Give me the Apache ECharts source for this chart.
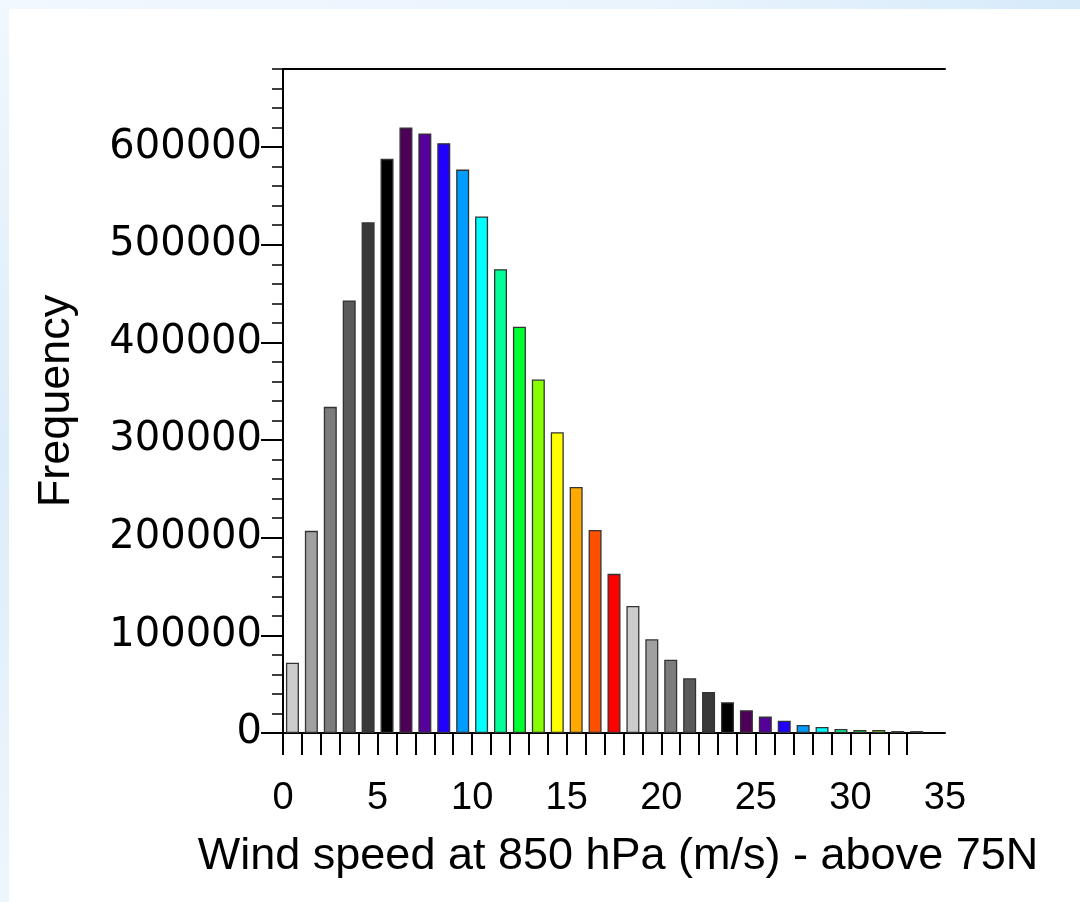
<!DOCTYPE html>
<html>
<head>
<meta charset="utf-8">
<title>Wind speed at 850 hPa histogram</title>
<script src="https://cdn.jsdelivr.net/npm/echarts@6/dist/echarts.min.js"></script>
<style>
  html, body { margin: 0; padding: 0; background: #ffffff; }
  #chart { width: 1080px; height: 902px; }
</style>
</head>
<body>
<div id="chart"></div>
<script>
// Lower edge of each 1 m/s wind-speed bin
const binEdges = [0, 1, 2, 3, 4, 5, 6, 7, 8, 9, 10, 11, 12, 13, 14, 15, 16,
  17, 18, 19, 20, 21, 22, 23, 24, 25, 26, 27, 28, 29, 30, 31, 32, 33];
const binWidth = 1;

// Number of samples in each bin
const frequency = [72000, 207000, 334000, 443000, 523000, 588000, 620000, 614000,
  604000, 577000, 529000, 475000, 416000, 362000, 308000, 252000, 208000, 163000,
  130000, 96000, 75000, 56000, 42000, 31500, 23300, 16800, 12500, 8300,
  6200, 4200, 3000, 3000, 2000, 2000];

// Tick labels
const xTickLabels = [0, 5, 10, 15, 20, 25, 30, 35];
const yTickLabels = [0, 100000, 200000, 300000, 400000, 500000, 600000];

// Fill colours, cycled through the bars
const barColors = ['#cccccc', '#a0a0a0', '#7c7c7c', '#5a5a5a', '#393939', '#000000',
  '#4e0058', '#540099', '#2200ff', '#009cff', '#00ffff', '#00ff99', '#00ff2e',
  '#88ff00', '#ffff00', '#ffaa00', '#ff5000', '#ff0000'];

const xMax = 35;
const yMax = 680000;

const barData = binEdges.map((edge, i) => ({
  value: [edge + binWidth / 2, frequency[i]],
  itemStyle: { color: barColors[i % barColors.length] }
}));

const chart = echarts.init(document.getElementById('chart'), null, { renderer: 'canvas' });

const labelFont = '"Liberation Sans", Arial, Helvetica, sans-serif';

chart.setOption({
  animation: false,
  backgroundColor: '#e8f2fb',
  graphic: [
    {
      type: 'rect', z: -20, silent: true,
      shape: { x: 0, y: 0, width: 1080, height: 10 },
      style: { fill: new echarts.graphic.LinearGradient(0, 0, 1, 0, [
        { offset: 0, color: '#f1f8fe' }, { offset: 0.6, color: '#eaf4fd' }, { offset: 1, color: '#d6eafa' }
      ]) }
    },
    {
      type: 'rect', z: -20, silent: true,
      shape: { x: 0, y: 0, width: 10, height: 902 },
      style: { fill: new echarts.graphic.LinearGradient(0, 0, 0, 1, [
        { offset: 0, color: '#f1f8fe' }, { offset: 0.5, color: '#dcecf9' }, { offset: 1, color: '#eef6fd' }
      ]) }
    },
    {
      type: 'rect', z: -10, silent: true,
      shape: { x: 9, y: 9, width: 1071, height: 893 },
      style: { fill: '#ffffff' }
    }
  ],
  grid: { left: 283, right: 135, top: 69, bottom: 169, containLabel: false },
  xAxis: [
    {
      type: 'value', min: 0, max: xMax, interval: 5,
      position: 'bottom',
      name: 'Wind speed at 850 hPa (m/s) - above 75N',
      nameLocation: 'middle', nameGap: 101,
      nameTextStyle: { fontFamily: labelFont, fontSize: 45, color: '#000',
        padding: [0, 0, 0, 8] },
      axisLine: { show: true, onZero: false, lineStyle: { color: '#000', width: 2 } },
      axisTick: { show: true, inside: false, length: 22, customValues: binEdges.concat([]),
        lineStyle: { color: '#000', width: 2 } },
      axisLabel: { customValues: xTickLabels, margin: 47,
        fontFamily: labelFont, fontSize: 38, color: '#000' },
      splitLine: { show: false }
    },
    {
      type: 'value', min: 0, max: xMax, position: 'top',
      axisLine: { show: true, onZero: false, lineStyle: { color: '#000', width: 2 } },
      axisTick: { show: false }, axisLabel: { show: false }, splitLine: { show: false }
    }
  ],
  yAxis: [
    {
      type: 'value', min: 0, max: yMax, interval: 20000,
      position: 'left',
      name: 'Frequency',
      nameLocation: 'middle', nameGap: 204, nameRotate: 90,
      nameTextStyle: { fontFamily: labelFont, fontSize: 45, color: '#000' },
      axisLine: { show: true, onZero: false, lineStyle: { color: '#000', width: 2 } },
      axisTick: { show: true, inside: false, length: 11, lineStyle: { color: '#000', width: 1.5 } },
      axisLabel: { customValues: yTickLabels, margin: 21,
        formatter: (v) => String(v),
        fontFamily: '"DejaVu Sans", Verdana, sans-serif', fontSize: 40, color: '#000' },
      splitLine: { show: false }
    },
    {
      type: 'value', min: 0, max: yMax, position: 'left',
      axisLine: { show: false },
      axisTick: { show: true, inside: false, length: 22, customValues: yTickLabels,
        lineStyle: { color: '#000', width: 2 } },
      axisLabel: { show: false }, splitLine: { show: false }
    }
  ],
  series: [
    {
      type: 'bar',
      xAxisIndex: 0, yAxisIndex: 0,
      barWidth: 13,
      data: barData,
      itemStyle: { borderColor: '#333333', borderWidth: 1.3 }
    }
  ]
});
</script>
</body>
</html>
